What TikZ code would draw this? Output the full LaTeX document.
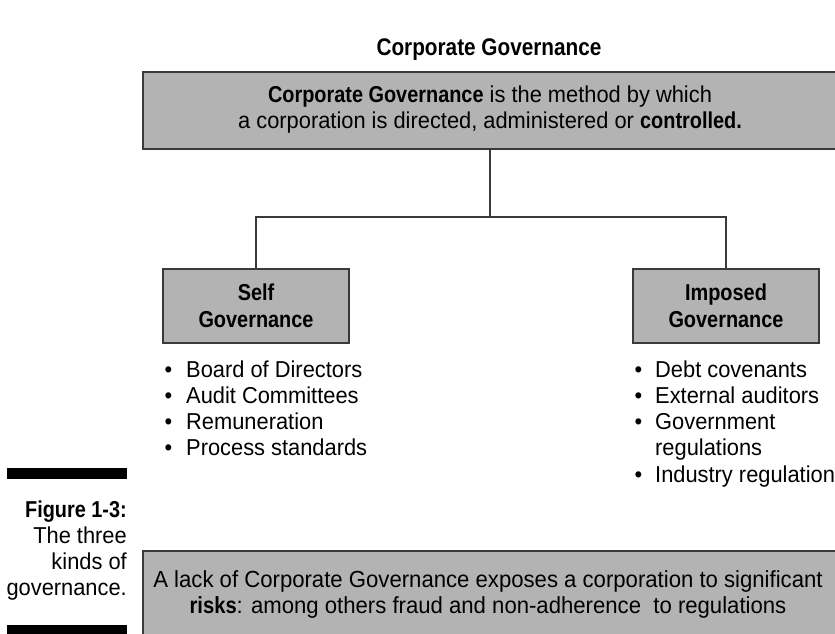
\documentclass[tikz,border=0pt]{standalone}
\usepackage{fontspec}
\setmainfont{Liberation Sans}[UprightFeatures={FakeStretch=0.95}, BoldFeatures={FakeStretch=0.865}]
\definecolor{boxgray}{HTML}{B3B3B3}
\definecolor{edgegray}{HTML}{3A3A3A}
\begin{document}
\begin{tikzpicture}[x=1pt,y=-1pt,
  txt/.style={font=\fontsize{23}{26.3}\selectfont, inner sep=0pt},
  graybox/.style={draw=edgegray, line width=1.4pt, fill=boxgray, inner sep=0pt},
  conn/.style={draw=edgegray, line width=1.3pt},
  bar/.style={fill=black}]
\useasboundingbox (0,0) rectangle (835,633);
\clip (0,0) rectangle (835,633);

% title
\node[txt, anchor=base, font=\fontsize{24}{27}\selectfont\bfseries] (title) at (489,55) {Corporate Governance};

% top box (last-line baseline used as anchor)
\node[graybox, minimum width=707pt, minimum height=77pt] (top) at (496.5,110.5) {};
\node[txt, align=center, anchor=base] (toptext) at (490,128.5)
  {\textbf{Corporate Governance} is the method by which\\
   a corporation is directed, administered or \textbf{controlled.}};

% sub boxes
\node[graybox, minimum width=186pt, minimum height=74pt, align=center, txt, font=\fontsize{23}{27}\selectfont\bfseries] (self) at (256,306) {Self\\Governance};
\node[graybox, minimum width=186pt, minimum height=74pt, align=center, txt, font=\fontsize{23}{27}\selectfont\bfseries] (imposed) at (726,306) {Imposed\\Governance};

% connectors
\coordinate (split) at (490,217);
\draw[conn] (split |- top.south) -- (split);
\draw[conn] (self.north) |- (split) -| (imposed.north);

% lists
\node[txt, align=left, anchor=base west] (selflist) at (164.5,455.9)
  {\makebox[21.5pt][l]{•}Board of Directors\\
   \makebox[21.5pt][l]{•}Audit Committees\\
   \makebox[21.5pt][l]{•}Remuneration\\
   \makebox[21.5pt][l]{•}Process standards};
\node[txt, align=left, anchor=base west] (imposedlist) at (634.5,482.2)
  {\makebox[20.5pt][l]{•}Debt covenants\\
   \makebox[20.5pt][l]{•}External auditors\\
   \makebox[20.5pt][l]{•}Government\\
   \hspace*{20.5pt}regulations\\
   \makebox[20.5pt][l]{•}Industry regulation};

% caption
\fill[bar] (7,468) rectangle (127,479);
\fill[bar] (7,625) rectangle (127,640);
\node[txt, align=right, anchor=base east, font=\fontsize{23}{26}\selectfont] (caption) at (127,595)
  {\textbf{Figure 1-3:}\\The three\\kinds of\\governance.};

% bottom box
\node[graybox, minimum width=710pt, minimum height=110pt] (risk) at (498,606) {};
\node[txt, align=center, anchor=base, font=\fontsize{23.3}{26.3}\selectfont] (risktext) at (488,613.3)
  {A lack of Corporate Governance exposes a corporation to significant\\
   \textbf{risks}: among others fraud and non-adherence\ \ to regulations};
\end{tikzpicture}
\end{document}
